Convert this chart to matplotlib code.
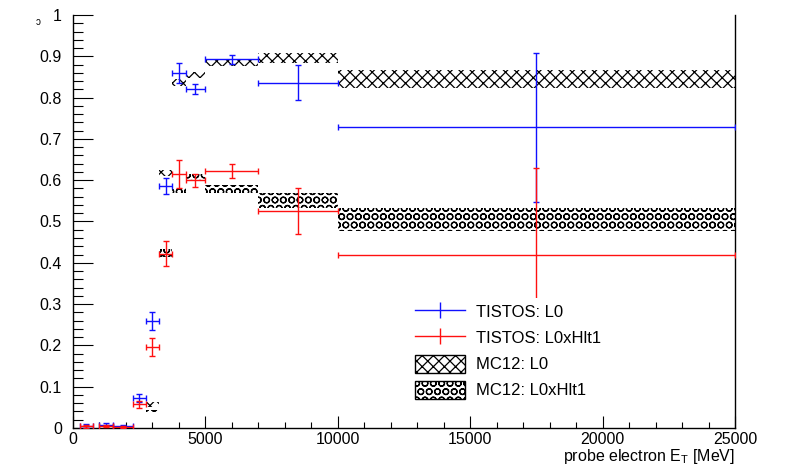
import matplotlib
matplotlib.use("Agg")
import matplotlib.pyplot as plt
from matplotlib.lines import Line2D
from matplotlib.patches import Patch
from matplotlib.ticker import MultipleLocator
import numpy as np

plt.rcParams['font.family'] = ['Liberation Sans', 'DejaVu Sans']
plt.rcParams['mathtext.fontset'] = 'custom'
plt.rcParams['mathtext.rm'] = 'Liberation Sans'
plt.rcParams['mathtext.it'] = 'Liberation Sans'
plt.rcParams['hatch.linewidth'] = 0.9
plt.rcParams['hatch.color'] = 'black'

# TISTOS efficiencies (data), binned in probe electron E_T [MeV]
et_centres = [500, 1250, 1875, 2500, 3000, 3500, 4000, 4625, 6000, 8500, 17500]
et_halfwidth = [250, 250, 375, 250, 250, 250, 250, 375, 1000, 1500, 7500]

eff_l0 = [0.005, 0.008, 0.004, 0.073, 0.259, 0.586, 0.860, 0.820, 0.893, 0.836, 0.728]
err_l0 = [0.004, 0.004, 0.003, 0.010, 0.022, 0.020, 0.024, 0.012, 0.011, 0.043, 0.180]

eff_l0hlt1 = [0.004, 0.005, 0.002, 0.057, 0.196, 0.422, 0.615, 0.600, 0.622, 0.525, 0.419]
err_l0hlt1 = [0.003, 0.003, 0.002, 0.008, 0.021, 0.030, 0.033, 0.016, 0.017, 0.055, 0.210]

# MC12 expectation bands
mc_low = [2750, 3250, 3750, 4250, 5000, 7000, 10000]
mc_high = [3250, 3750, 4250, 5000, 7000, 10000, 25000]
mc_l0 = [0.058, 0.617, 0.836, 0.855, 0.885, 0.895, 0.845]
mc_l0_err = [0.006, 0.008, 0.009, 0.008, 0.008, 0.012, 0.022]
mc_l0hlt1 = [0.040, 0.424, 0.576, 0.607, 0.578, 0.550, 0.505]
mc_l0hlt1_err = [0.004, 0.010, 0.008, 0.008, 0.010, 0.018, 0.028]

legend_labels = ["TISTOS: L0", "TISTOS: L0xHlt1", "MC12: L0", "MC12: L0xHlt1"]

W, H = 788, 466
fig = plt.figure(figsize=(W / 100, H / 100), dpi=100)
ax = fig.add_axes([73 / W, 1 - 428 / H, (735 - 73) / W, (428 - 15) / H])


def band(low, high, val, err, hatch):
    """Hatched rectangle per bin spanning val +- err."""
    low = np.asarray(low); high = np.asarray(high)
    val = np.asarray(val); err = np.asarray(err)
    ax.bar(low, 2 * err, width=high - low, bottom=val - err, align='edge',
           facecolor='none', edgecolor='black', hatch=hatch, linewidth=0, zorder=1)


band(mc_low, mc_high, mc_l0hlt1, mc_l0hlt1_err, 'OO')
band(mc_low, mc_high, mc_l0, mc_l0_err, 'xxx')

blue = '#1010ff'
red = '#ff1010'
ax.errorbar(et_centres, eff_l0, xerr=et_halfwidth, yerr=err_l0, fmt='none',
            ecolor=blue, elinewidth=1.0, capsize=2.5, capthick=1.0, zorder=3)
ax.errorbar(et_centres, eff_l0hlt1, xerr=et_halfwidth, yerr=err_l0hlt1, fmt='none',
            ecolor=red, elinewidth=1.0, capsize=2.5, capthick=1.0, zorder=3)

ax.set_xlim(0, 25000)
ax.set_ylim(0, 1)
ax.xaxis.set_major_locator(MultipleLocator(5000))
ax.xaxis.set_minor_locator(MultipleLocator(1000))
ax.yaxis.set_major_locator(MultipleLocator(0.1))
ax.yaxis.set_minor_locator(MultipleLocator(0.02))
ax.yaxis.set_major_formatter(plt.FuncFormatter(lambda v, p: ('%g' % round(v, 2))))
ax.xaxis.set_major_formatter(plt.FuncFormatter(lambda v, p: '%d' % v))

ax.tick_params(axis='x', which='major', direction='in', length=8.6, width=0.8,
               labelsize=11.5, pad=3)
ax.tick_params(axis='x', which='minor', direction='in', length=4.3, width=0.8)
ax.tick_params(axis='y', which='major', direction='in', length=14.4, width=0.8,
               labelsize=11.5, pad=8)
ax.tick_params(axis='y', which='minor', direction='in', length=7.2, width=0.8)
ax.tick_params(top=False, right=False, which='both')

for side in ['left', 'bottom', 'right']:
    ax.spines[side].set_linewidth(1.0)
ax.spines['top'].set_visible(False)

ax.set_xlabel(r"probe electron E$_{\mathrm{T}}$ [MeV]", fontsize=11.5, ha='right')
ax.xaxis.set_label_coords(1.0, -0.047)

handles = [
    Line2D([0], [0], color=blue, lw=1.0, marker='|', markersize=11, markeredgewidth=1.0),
    Line2D([0], [0], color=red, lw=1.0, marker='|', markersize=11, markeredgewidth=1.0),
    Patch(facecolor='white', edgecolor='black', hatch='xxx', linewidth=1.0),
    Patch(facecolor='white', edgecolor='black', hatch='OO', linewidth=1.0),
]
leg = ax.legend(handles, legend_labels, loc='upper left',
                bbox_to_anchor=((410 - 73) / 662, (428 - 298) / 413),
                borderaxespad=0, borderpad=0.3, fontsize=12,
                handlelength=3.0, handleheight=1.25, handletextpad=0.65,
                labelspacing=0.5, frameon=True, fancybox=False,
                framealpha=1.0, facecolor='white', edgecolor='none')
leg.set_zorder(5)

fig.text(38 / W, 1 - 22 / H, "ɔ", fontsize=7, ha='center', va='center')

fig.savefig("out.png", dpi=100)
